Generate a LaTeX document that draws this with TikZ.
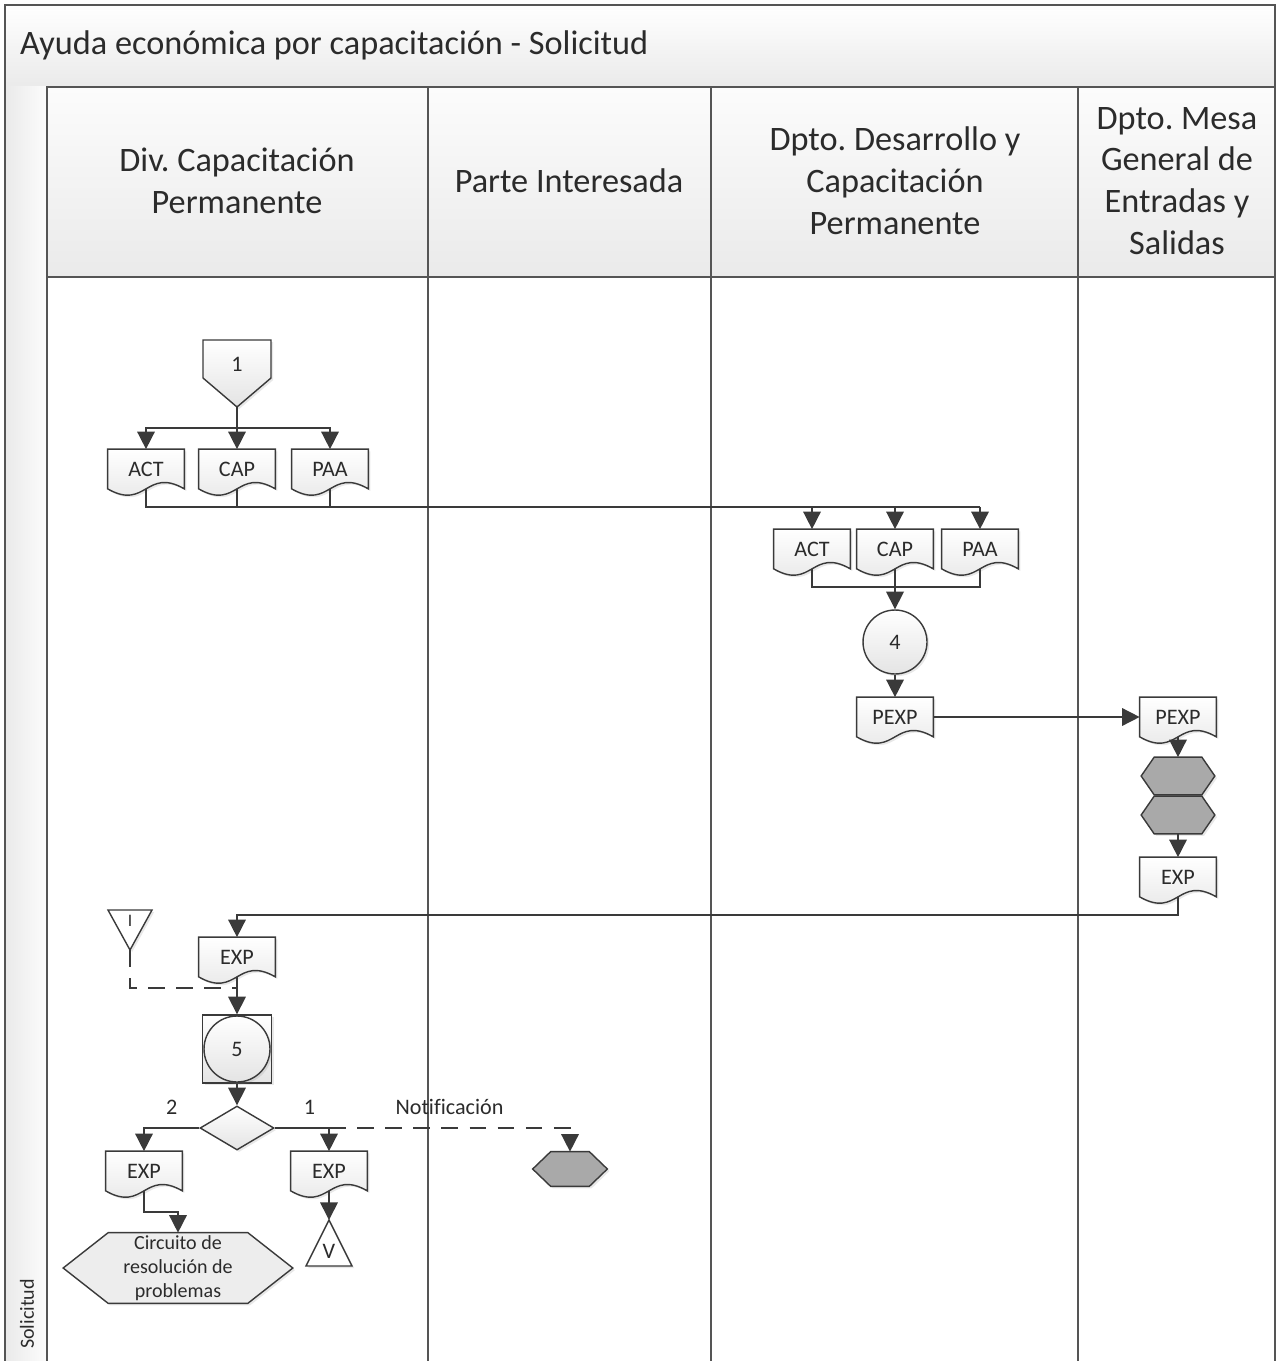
\documentclass[tikz,border=0pt]{standalone}
\usepackage{fontspec}
\setmainfont{Carlito}[Ligatures=NoCommon]
\usetikzlibrary{arrows.meta, positioning, calc, backgrounds, shapes.geometric, shadows}
\frenchspacing

\definecolor{FrameGray}{HTML}{555555}
\definecolor{LineGray}{HTML}{3A3A3A}
\definecolor{TextGray}{HTML}{2B2B2B}
\definecolor{HeadTop}{HTML}{FCFCFC}
\definecolor{HeadBottom}{HTML}{EAEAEA}
\definecolor{DocGray}{HTML}{E4E4E4}
\definecolor{HexGray}{HTML}{A9A9A9}
\definecolor{PaleGray}{HTML}{EDEDED}

\newcommand{\headfont}{\fontsize{19.5}{23.8}\selectfont}
\newcommand{\docfont}{\fontsize{12.6}{14}\selectfont}
\newcommand{\smallfont}{\fontsize{11.4}{13.6}\selectfont}
\newcommand{\tinyfont}{\fontsize{10}{11}\selectfont}

\tikzset{
    frame/.style={draw=FrameGray, line width=1.1pt},
    headcell/.style={frame, top color=HeadTop, bottom color=HeadBottom},
    headtext/.style={font=\headfont, align=center, text=TextGray},
    shapeline/.style={draw=LineGray, line width=0.8pt,
                      drop shadow={opacity=0.18, shadow xshift=1.2pt, shadow yshift=-1.2pt}},
    docbox/.style={minimum width=1.52cm, minimum height=0.78cm, inner sep=0pt,
                   font=\docfont, text=TextGray},
    hexbox/.style={inner sep=0pt, text=TextGray},
    stepcircle/.style={circle, shapeline, top color=white, bottom color=DocGray,
                       minimum size=1.28cm, inner sep=0pt, font=\docfont, text=TextGray},
    decision/.style={diamond, shapeline, top color=white, bottom color=DocGray,
                     minimum width=1.48cm, minimum height=0.88cm, inner sep=0pt},
    line/.style={draw=LineGray, line width=0.9pt},
    flow/.style={line, -{Triangle[length=10pt, width=10pt]}},
    dashline/.style={line, dash pattern=on 9.5pt off 6.5pt},
    lbl/.style={font=\docfont, text=TextGray, inner sep=2pt, above=5pt}
}

% document symbol: text node plus wavy outline behind it
\newcommand{\docnode}[3]{%
    \node[docbox] (#1) at (#2) {#3};
    \begin{scope}[on background layer]
        \draw[shapeline, top color=white, bottom color=DocGray]
            (#1.north west) -- (#1.north east) -- (#1.south east)
            .. controls ($(#1.south)+(0,-22)$) and ($(#1.south)+(0,22)$) .. (#1.south west)
            -- cycle;
    \end{scope}}

% hexagon outline round a node: name, corner depth, fill
\newcommand{\hexshape}[3]{%
    \begin{scope}[on background layer]
        \draw[shapeline, fill=#3]
            (#1.west) -- ($(#1.north west)+(#2,0)$) -- ($(#1.north east)+(-#2,0)$)
            -- (#1.east) -- ($(#1.south east)+(-#2,0)$) -- ($(#1.south west)+(#2,0)$)
            -- cycle;
    \end{scope}}

\begin{document}
\begin{tikzpicture}[x=0.02cm, y=-0.02cm]
    \useasboundingbox (0,0) rectangle (1277,1361);

    % Pool and lanes
    \draw[frame, top color=white, bottom color=HeadBottom] (5,5) rectangle (1275,87);
    \node[font=\headfont, text=TextGray, anchor=west] (title) at (14,45)
        {Ayuda económica por capacitación - Solicitud};
    \path[left color=HeadBottom, right color=HeadTop] (5,87) rectangle (47,1361);
    \draw[frame] (5,1361) -- (5,5) -- (1275,5) -- (1275,1361);
    \draw[frame] (47,87) -- (47,1361);
    \draw[headcell] (47,87) rectangle (428,277);
    \draw[headcell] (428,87) rectangle (711,277);
    \draw[headcell] (711,87) rectangle (1078,277);
    \draw[headcell] (1078,87) rectangle (1275,277);
    \foreach \x in {428,711,1078}
        \draw[frame] (\x,277) -- (\x,1361);
    \node[font=\smallfont, text=TextGray, rotate=90] (pool) at (27,1314) {Solicitud};

    \node[headtext] (laneA) at (237,181) {Div. Capacitación\\Permanente};
    \node[headtext] (laneB) at (569,181) {Parte Interesada};
    \node[headtext] (laneC) at (895,181) {Dpto. Desarrollo y\\Capacitación\\Permanente};
    \node[headtext] (laneD) at (1177,181) {Dpto. Mesa\\General de\\Entradas y\\Salidas};

    % Off-page reference 1
    \node[font=\docfont, text=TextGray] (c1) at (237,364) {1};
    \coordinate (c1tip) at ($(c1)+(0,43)$);
    \begin{scope}[on background layer]
        \draw[shapeline, top color=white, bottom color=DocGray]
            ($(c1)+(-34,-24)$) -- ($(c1)+(34,-24)$) -- ($(c1)+(34,14)$)
            -- (c1tip) -- ($(c1)+(-34,14)$) -- cycle;
    \end{scope}

    % Documents
    \docnode{dA1}{146,469}{ACT}
    \docnode{dC1}{237,469}{CAP}
    \docnode{dP1}{330,469}{PAA}
    \docnode{dA2}{812,549}{ACT}
    \docnode{dC2}{895,549}{CAP}
    \docnode{dP2}{980,549}{PAA}
    \docnode{dPE1}{895,717}{PEXP}
    \docnode{dPE2}{1178,717}{PEXP}
    \docnode{dE1}{1178,877}{EXP}
    \docnode{dE2}{237,957}{EXP}
    \docnode{dE3}{144,1171}{EXP}
    \docnode{dE4}{329,1171}{EXP}

    % Process 4
    \node[stepcircle] (n4) at (895,642) {4};

    % Mesa de entradas
    \node[hexbox, minimum width=1.46cm, minimum height=0.74cm] (hx1) at (1178,776) {};
    \hexshape{hx1}{13}{HexGray}
    \node[hexbox, minimum width=1.46cm, minimum height=0.74cm] (hx2) at (1178,815) {};
    \hexshape{hx2}{13}{HexGray}

    % Merge I
    \node[font=\tinyfont, text=TextGray] (mI) at (130,921) {I};
    \coordinate (mItip) at ($(mI)+(0,29)$);
    \begin{scope}[on background layer]
        \draw[shapeline, fill=white] ($(mI)+(-22,-11)$) -- ($(mI)+(22,-11)$) -- (mItip) -- cycle;
    \end{scope}

    % Process 5
    \node[shapeline, top color=white, bottom color=DocGray,
          minimum width=1.38cm, minimum height=1.36cm] (sq5) at (237,1049) {};
    \node[stepcircle, minimum size=1.32cm] (c5) at (sq5) {5};

    % Decision
    \node[decision] (dec) at (237,1128) {};

    \node[hexbox, minimum width=1.48cm, minimum height=0.68cm] (hx3) at (570,1169) {};
    \hexshape{hx3}{18}{HexGray}

    \node[hexbox, minimum width=4.58cm, minimum height=1.4cm, font=\smallfont,
          align=center] (hxC) at (178,1268) {Circuito de\\resolución de\\problemas};
    \hexshape{hxC}{45}{PaleGray}

    % Archive V
    \node[font=\docfont, text=TextGray] (tV) at (329,1251) {V};
    \coordinate (tVtop) at ($(tV)+(0,-31)$);
    \begin{scope}[on background layer]
        \draw[shapeline, fill=white] (tVtop) -- ($(tV)+(23,15)$) -- ($(tV)+(-23,15)$) -- cycle;
    \end{scope}

    % Connectors
    \coordinate (bus1) at ($(c1tip)!0.5!(dC1.north)$);
    \draw[flow] (c1tip) -- (dC1.north);
    \draw[flow] (bus1) -| (dA1.north);
    \draw[flow] (bus1) -| (dP1.north);

    \coordinate (bus2) at ($(dA1.south)!0.45!(dA2.north)$);
    \draw[line] (dA1.south) |- (bus2 -| dP2.north);
    \draw[line] (dC1.south) -- (dC1.south |- bus2);
    \draw[line] (dP1.south) -- (dP1.south |- bus2);
    \draw[flow] (bus2 -| dA2.north) -- (dA2.north);
    \draw[flow] (bus2 -| dC2.north) -- (dC2.north);
    \draw[flow] (bus2 -| dP2.north) -- (dP2.north);

    \coordinate (bus3) at ($(dA2.south)!0.45!(n4.north)$);
    \draw[line] (dA2.south) |- (bus3 -| dP2.south) -- (dP2.south);
    \draw[flow] (dC2.south) -- (n4.north);
    \draw[flow] (n4.south) -- (dPE1.north);
    \draw[flow] (dPE1.east) -- (dPE2.west);
    \draw[flow] (dPE2.south) -- (hx1.north);
    \draw[flow] (hx2.south) -- (dE1.north);

    \coordinate (bus4) at ($(dE1.south)!0.45!(dE2.north)$);
    \draw[flow] (dE1.south) |- (bus4) -| (dE2.north);
    \draw[flow] (dE2.south) -- (sq5.north);
    \coordinate (join) at ($(dE2.south)!0.3!(sq5.north)$);
    \draw[dashline] (mItip) |- (join);
    \draw[flow] (sq5.south) -- (dec.north);

    \draw[flow] (dec.west) -| node[lbl, pos=0.25] (l2) {2} (dE3.north);
    \draw[flow] (dec.east) -| node[lbl, pos=0.32] (l1) {1} (dE4.north);
    \draw[dashline, -{Triangle[length=10pt, width=10pt]}] (dE4.north |- dec.east)
        -| node[lbl, pos=0.25] (lnot) {Notif\kern0pt icación} (hx3.north);

    \coordinate (bus5) at ($(dE3.south)!0.5!(hxC.north)$);
    \draw[flow] (dE3.south) |- (bus5) -| (hxC.north);
    \draw[flow] (dE4.south) -- (tVtop);
\end{tikzpicture}
\end{document}
